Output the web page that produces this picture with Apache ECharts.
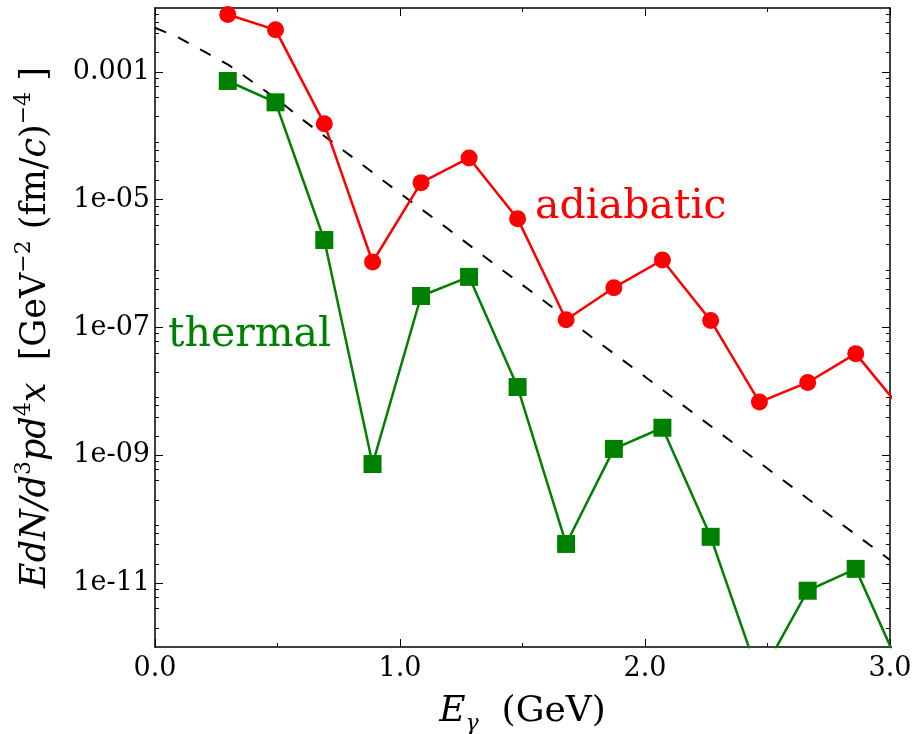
<!DOCTYPE html>
<html>
<head>
<meta charset="utf-8">
<script src="https://cdn.jsdelivr.net/npm/echarts@6/dist/echarts.min.js"></script>
<style>
html,body{margin:0;padding:0;background:#fff;}
#chart{width:918px;height:734px;}
</style>
</head>
<body>
<div id="chart"></div>
<script>
// ---- data ----
const energies = [0.297, 0.492, 0.691, 0.888, 1.086, 1.282, 1.480, 1.678, 1.873, 2.071, 2.268, 2.467, 2.664, 2.860, 3.057];
const adiabatic = [7.9e-3, 4.55e-3, 1.55e-4, 1.06e-6, 1.85e-5, 4.5e-5, 5.05e-6, 1.32e-7, 4.2e-7, 1.14e-6, 1.29e-7, 6.8e-9, 1.38e-8, 3.9e-8, 4.7e-9];
const thermal = [7.2e-4, 3.34e-4, 2.34e-6, 7.3e-10, 3.11e-7, 6.2e-7, 1.17e-8, 4.1e-11, 1.26e-9, 2.7e-9, 5.3e-11, 3.3e-13, 7.6e-12, 1.67e-11, 3.4e-13];
const refEnergies = [0, 0.1, 0.2, 0.3, 0.4, 0.5, 0.6, 0.8, 1.0, 1.2, 1.4, 1.6, 1.8, 2.0, 2.2, 2.4, 2.6, 2.8, 3.0];
const reference = [4.9e-3, 3.39e-3, 2.09e-3, 1.29e-3, 6.9e-4, 3.7e-4, 1.82e-4, 4.8e-5, 1.26e-5, 3.4e-6, 8.9e-7, 2.4e-7, 6.3e-8, 1.7e-8, 4.5e-9, 1.2e-9, 3.2e-10, 8.5e-11, 2.3e-11];

const xTickValues = [0, 1, 2, 3];
const xTickLabels = ['0.0', '1.0', '2.0', '3.0'];
const yTickValues = [1e-11, 1e-9, 1e-7, 1e-5, 1e-3];
const yTickLabels = ['1e-11', '1e-09', '1e-07', '1e-05', '0.001'];
const yMinorSubs = [2, 4, 6, 8];
const yDecades = [-12, -11, -10, -9, -8, -7, -6, -5, -4, -3];

const yMinorValues = [];
yDecades.forEach(d => yMinorSubs.forEach(s => yMinorValues.push(s * Math.pow(10, d))));

const FONT = 'DejaVu Serif';
const pair = (xs, ys) => xs.map((x, i) => [x, ys[i]]);

function labelFor(values, labels, v) {
  let best = -1, bd = Infinity;
  values.forEach((t, i) => {
    const d = Math.abs(Math.log10(Math.abs(t) + 1e-30) - Math.log10(Math.abs(v) + 1e-30));
    if (d < bd) { bd = d; best = i; }
  });
  return best >= 0 && bd < 0.01 ? labels[best] : '';
}
function xLabel(v) {
  const i = xTickValues.findIndex(t => Math.abs(t - v) < 1e-9);
  return i >= 0 ? xTickLabels[i] : '';
}

const baseY = {
  type: 'log', logBase: 10, min: 1e-12, max: 1e-2,
  splitLine: { show: false }, minorSplitLine: { show: false }
};
const axisLine = { show: true, lineStyle: { color: '#000', width: 1.5 } };

const chart = echarts.init(document.getElementById('chart'), null, { renderer: 'canvas' });
chart.setOption({
  animation: false,
  backgroundColor: '#fff',
  grid: { left: 155, right: 28, top: 8, bottom: 87, containLabel: false, outerBoundsMode: 'none' },
  xAxis: [
    {
      type: 'value', min: 0, max: 3, interval: 1, position: 'bottom',
      axisLine: axisLine,
      axisTick: { inside: true, length: 8, lineStyle: { color: '#000', width: 1 } },
      minorTick: { show: true, splitNumber: 2, length: 4, lineStyle: { color: '#000', width: 1 } },
      splitLine: { show: false }, minorSplitLine: { show: false },
      axisLabel: { formatter: xLabel, fontFamily: FONT, fontSize: 27, color: '#000', margin: 8 },
      name: '{it|E}{sub|γ}{n|  (GeV)}',
      nameLocation: 'middle', nameGap: 42,
      nameTextStyle: {
        rich: {
          it: { fontFamily: FONT, fontStyle: 'italic', fontSize: 36, color: '#000', lineHeight: 46 },
          sub: { fontFamily: FONT, fontStyle: 'italic', fontSize: 22, color: '#000', lineHeight: 30, verticalAlign: 'bottom' },
          n: { fontFamily: FONT, fontSize: 36, color: '#000', lineHeight: 46 }
        }
      }
    },
    {
      type: 'value', min: 0, max: 3, interval: 1, position: 'top',
      axisLine: axisLine,
      axisTick: { inside: true, length: 8, lineStyle: { color: '#000', width: 1 } },
      minorTick: { show: true, splitNumber: 2, length: 4, lineStyle: { color: '#000', width: 1 } },
      splitLine: { show: false }, minorSplitLine: { show: false },
      axisLabel: { show: false }
    }
  ],
  yAxis: [
    Object.assign({}, baseY, {
      position: 'left',
      axisLine: axisLine,
      axisTick: { inside: true, length: 8, customValues: yTickValues, lineStyle: { color: '#000', width: 1 } },
      axisLabel: {
        customValues: yTickValues,
        formatter: v => labelFor(yTickValues, yTickLabels, v),
        fontFamily: FONT, fontSize: 27, color: '#000', margin: 5
      },
      name: '{it|EdN/d}{sup|3}{it|pd}{sup|4}{it|x}{n|  [GeV}{sup|−2}{n| (fm/}{it|c}{n|)}{sup|−4}{n| ]}',
      nameLocation: 'middle', nameRotate: 90, nameGap: 96,
      nameTextStyle: {
        rich: {
          it: { fontFamily: FONT, fontStyle: 'italic', fontSize: 35, color: '#000', lineHeight: 46 },
          n: { fontFamily: FONT, fontSize: 35, color: '#000', lineHeight: 46 },
          sup: { fontFamily: FONT, fontSize: 22, color: '#000', lineHeight: 24, verticalAlign: 'top' }
        }
      }
    }),
    Object.assign({}, baseY, {
      position: 'left',
      axisLine: { show: false },
      axisTick: { inside: true, length: 4, customValues: yMinorValues, lineStyle: { color: '#000', width: 1 } },
      axisLabel: { show: false }
    }),
    Object.assign({}, baseY, {
      position: 'right',
      axisLine: axisLine,
      axisTick: { inside: true, length: 8, customValues: yTickValues, lineStyle: { color: '#000', width: 1 } },
      axisLabel: { show: false }
    }),
    Object.assign({}, baseY, {
      position: 'right',
      axisLine: { show: false },
      axisTick: { inside: true, length: 4, customValues: yMinorValues, lineStyle: { color: '#000', width: 1 } },
      axisLabel: { show: false }
    })
  ],
  series: [
    {
      name: 'reference', type: 'line', xAxisIndex: 0, yAxisIndex: 0,
      data: pair(refEnergies, reference),
      showSymbol: false, symbol: 'none', smooth: false, clip: true, z: 1,
      lineStyle: { color: '#000', width: 2, type: [12, 13] }
    },
    {
      name: 'thermal', type: 'line', xAxisIndex: 0, yAxisIndex: 0,
      data: pair(energies, thermal),
      symbol: 'rect', symbolSize: 18, clip: true, z: 2,
      itemStyle: { color: '#008000' },
      lineStyle: { color: '#008000', width: 2.5 }
    },
    {
      name: 'adiabatic', type: 'line', xAxisIndex: 0, yAxisIndex: 0,
      data: pair(energies, adiabatic),
      symbol: 'circle', symbolSize: 17, clip: true, z: 3,
      itemStyle: { color: '#ff0000' },
      lineStyle: { color: '#ff0000', width: 2.5 }
    }
  ],
  graphic: [
    { type: 'text', left: 535, top: 187, z: 10,
      style: { text: 'adiabatic', fontFamily: FONT, fontSize: 41, fill: '#ff0000' } },
    { type: 'text', left: 168, top: 315, z: 10,
      style: { text: 'thermal', fontFamily: FONT, fontSize: 41, fill: '#008000' } }
  ]
});
</script>
</body>
</html>
